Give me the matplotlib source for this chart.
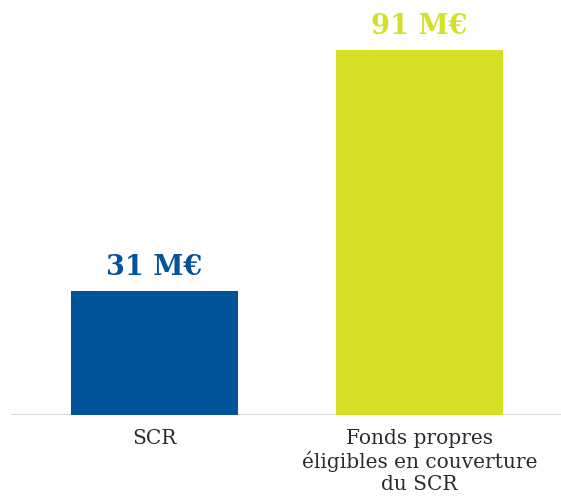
import numpy as np
import matplotlib.pyplot as plt
from matplotlib.transforms import blended_transform_factory

categories = ["SCR", "Fonds propres\néligibles en couverture\ndu SCR"]
values = [31, 91]
value_labels = ["31 M€", "91 M€"]
colors = ["#03539b", "#d5df23"]

fig = plt.figure(figsize=(5.61, 4.97), dpi=100)
# axes span from the start of the baseline to the right edge
ax = fig.add_axes([11 / 561, 82 / 497, 550 / 561, 415 / 497])

x = np.arange(len(values))
ax.bar(x, values, width=0.63, color=colors, zorder=2)
ax.set_xlim(-0.5415, 1.534)
ax.set_ylim(0, 103.5)

for xi, v, lab, c in zip(x, values, value_labels, colors):
    ax.annotate(lab, (xi, v), xytext=(0, 7), textcoords="offset points",
                ha="center", va="bottom", fontsize=19.5, fontweight="bold",
                family="DejaVu Serif", color=c)

ax.axhline(0, color="#d9d9d9", lw=1.5, zorder=1)

trans = blended_transform_factory(ax.transData, ax.transAxes)
for xi, cat in zip(x, categories):
    ax.text(xi, -0.033, cat, transform=trans, ha="center", va="top",
            fontsize=14.5, family="DejaVu Serif", color="#2b2b2b",
            linespacing=1.2)

for s in ax.spines.values():
    s.set_visible(False)
ax.set_xticks([])
ax.set_yticks([])

fig.savefig("out.png", dpi=100)
